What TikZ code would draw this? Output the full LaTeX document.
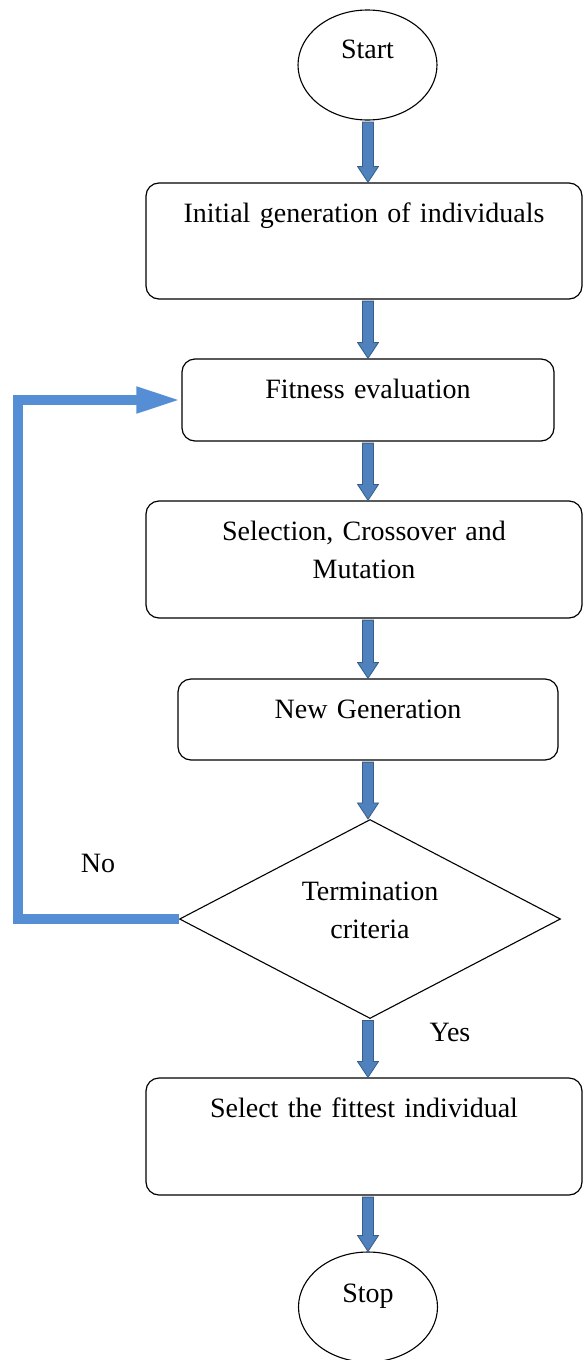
\documentclass[tikz,border=0pt]{standalone}
\usepackage{fontspec}
\setmainfont{Liberation Serif}
\usetikzlibrary{shapes.geometric}
\usetikzlibrary{arrows.meta}
\usetikzlibrary{calc}

\definecolor{arrowfill}{RGB}{79,129,189}
\definecolor{arrowedge}{RGB}{56,93,138}
\definecolor{loopblue}{RGB}{85,142,213}

\tikzset{
	procbox/.style 2 args={draw, line width=1.2pt, rounded corners=13pt, inner sep=0pt, align=center, text width=#1, text height=39pt, text depth=#2},
	terminal/.style={draw, ellipse, line width=1.1pt, inner sep=0pt, minimum width=139pt, minimum height=110pt, text height=20pt},
	decision/.style={draw, diamond, aspect=1.9, line width=1.1pt, inner sep=0pt, minimum width=381pt, minimum height=199pt, align=center, text width=150pt, text height=20pt, text depth=58pt},
	blockarrow/.style={fill=arrowfill, draw=arrowedge, line width=0.8pt},
	loopline/.style={draw=loopblue, line width=10pt, -{Triangle[length=45pt, width=24pt]}}
}

\begin{document}
\begin{tikzpicture}[x=1pt, y=-1pt, font=\fontsize{28}{38}\selectfont]
		\useasboundingbox (0, 0) rectangle (582, 1360);
		\coordinate (spine) at (368, 0);
		\coordinate (loopx) at (18, 0);

		\node [terminal, text depth=34pt] (start) at (367.5, 65) {Start};
		\node [procbox={436pt}{77pt}] (init) at (364, 241) {Initial generation of individuals};
		\node [procbox={372pt}{43pt}] (fit) at (368, 400) {Fitness evaluation};
		\node [procbox={436pt}{78pt}] (sel) at (364, 559.5) {Selection, Crossover and\\Mutation};
		\node [procbox={380pt}{42pt}] (newgen) at (368, 719.5) {New Generation};
		\node [decision] (term) at (370, 919) {Termination\\criteria};
		\node [procbox={436pt}{78pt}] (fittest) at (364, 1136.5) {Select the fittest individual};
		\node [terminal, text depth=30pt] (stop) at (368, 1307) {Stop};

		\node (no) at (98, 863) {No};
		\node (yes) at (450, 1032) {Yes};

		% block arrows down the chain
		\foreach \a/\b in {start/init, init/fit, fit/sel, sel/newgen, newgen/term, term/fittest, fittest/stop}
			\path [blockarrow] ($(\a.south -| spine) + (-5.5, 1.5)$) -- ($(\b.north -| spine) + (-5.5, -16)$) -- ++(-5, 0) -- (\b.north -| spine)
				-- ($(\b.north -| spine) + (10.5, -16)$) -- ++(-5, 0) -- ($(\a.south -| spine) + (5.5, 1.5)$) -- cycle;

		% loop back when not terminated
		\draw [loopline] (term.west) -- (term.west -| loopx) |- (fit.west);
	\end{tikzpicture}
\end{document}
